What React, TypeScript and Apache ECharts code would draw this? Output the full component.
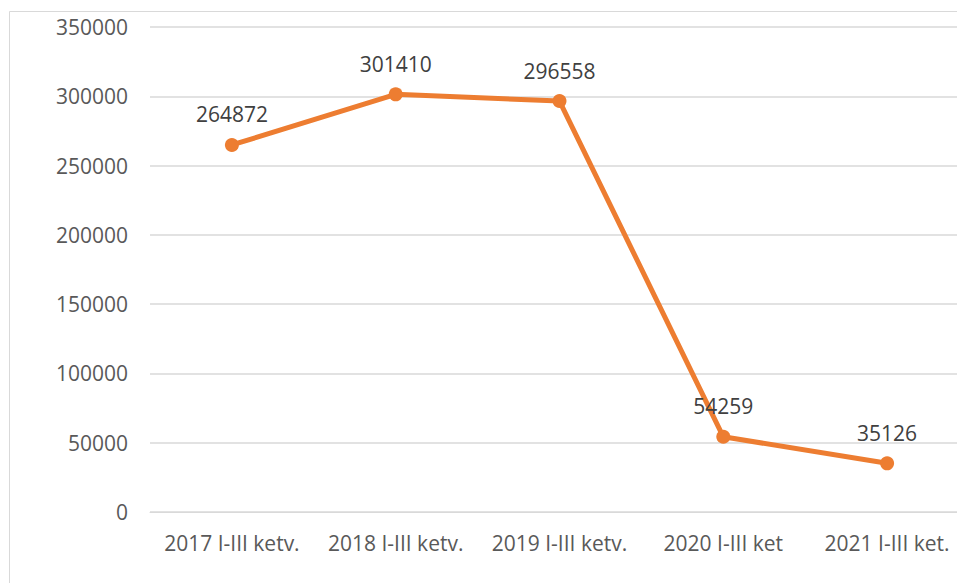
import React, { useEffect, useRef } from "react";
import * as echarts from "echarts";

const categories = ["2017 I-III ketv.", "2018 I-III ketv.", "2019 I-III ketv.", "2020 I-III ket", "2021 I-III ket."];
const values = [264872, 301410, 296558, 54259, 35126];
const yMin = 0;
const yMax = 350000;
const yInterval = 50000;

export default function App() {
  const ref = useRef<HTMLDivElement>(null);
  useEffect(() => {
    if (!ref.current) return;
    const chart = echarts.init(ref.current, null, { renderer: "svg" });
    const font = "'Open Sans', sans-serif";
    chart.setOption({
      animation: false,
      backgroundColor: "#ffffff",
      grid: { left: 150, right: 11, top: 27, bottom: 71 },
      graphic: [
        {
          type: "rect",
          shape: { x: 9.5, y: 11.5, width: 1200, height: 1200 },
          style: { fill: "none", stroke: "#d9d9d9", lineWidth: 1 },
          silent: true,
          z: -10,
        },
      ],
      xAxis: {
        type: "category",
        data: categories,
        boundaryGap: true,
        axisLine: { show: true, lineStyle: { color: "#d9d9d9", width: 1 } },
        axisTick: { show: false },
        axisLabel: { color: "#595959", fontSize: 21, fontFamily: font, margin: 20, interval: 0 },
      },
      yAxis: {
        type: "value",
        min: yMin,
        max: yMax,
        interval: yInterval,
        axisLine: { show: false },
        axisTick: { show: false },
        splitLine: { lineStyle: { color: "#d9d9d9", width: 1.5 } },
        axisLabel: {
          color: "#595959",
          fontSize: 21,
          fontFamily: font,
          margin: 22,
          formatter: (v: number) => String(v),
        },
      },
      series: [
        {
          type: "line",
          data: values,
          symbol: "circle",
          symbolSize: 14,
          lineStyle: { color: "#ED7D31", width: 5 },
          itemStyle: { color: "#ED7D31" },
          label: {
            show: true,
            position: "top",
            distance: 13,
            color: "#404040",
            fontSize: 21,
            fontFamily: font,
          },
        },
      ],
    });
    return () => chart.dispose();
  }, []);
  return (
    <div style={{ position: "absolute", left: 0, top: 0, width: 957, height: 583, overflow: "hidden" }}>
      <div ref={ref} style={{ width: 980, height: 583 }} />
    </div>
  );
}
